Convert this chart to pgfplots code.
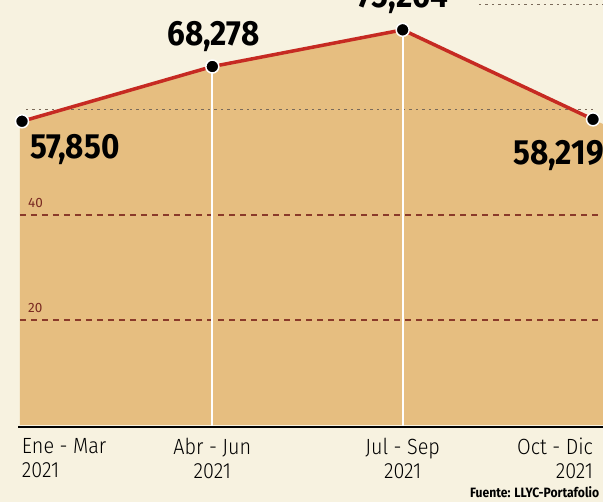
\documentclass[border=0pt]{standalone}
\usepackage{pgfplots}
\pgfplotsset{compat=1.18}
\usepackage{fontspec}
\setmainfont{Fira Sans}
\newfontfamily\lightfont{Fira Sans}[UprightFont={* Light}, FakeStretch=0.9]
\newfontfamily\boldfont{Fira Sans}[UprightFont={* Bold}, FakeStretch=0.9]
\newfontfamily\smallbold{Fira Sans}[UprightFont={* SemiBold}, FakeStretch=0.85]
\definecolor{cream}{HTML}{F7F2E0}
\definecolor{tan}{HTML}{E6BE80}
\definecolor{redline}{HTML}{C62A22}
\definecolor{gridred}{HTML}{8A3A2A}
\definecolor{griddot}{HTML}{7A6A5A}
\definecolor{baseline}{HTML}{3A2A20}
\definecolor{ticklab}{HTML}{7A2A22}
\begin{document}
\begin{tikzpicture}
\fill[cream] (-20pt,-77pt) rectangle (583pt,425pt);
\begin{axis}[
  name=ax, at={(0,0)}, anchor=south west,
  scale only axis, width=583pt, height=425pt,
  xmin=-0.0105, xmax=3.0525, ymin=0, ymax=80.95,
  axis line style={draw=none}, tick style={draw=none},
  axis on top=true,
  clip=false,
  xtick={0,1,2,3},
  xticklabels={{\rlap{Ene - Mar}\\\rlap{2021}},{Abr - Jun\\2021},{Jul - Sep\\2021},{\llap{Oct - Dic}\\\llap{2021}}},
  xticklabel style={align=center, anchor=north, inner sep=0pt, yshift=-13pt, font=\lightfont\fontsize{22}{24}\selectfont, text=black},
  ytick={20,40},
  yticklabel style={anchor=base west, inner sep=0pt, xshift=8pt, yshift=7pt, font=\fontsize{13.5}{15}\selectfont, text=ticklab},
  /pgf/number format/assume math mode=true,
]
% area
\addplot[fill=tan, draw=none] coordinates {(-0.0105,-0.4) (-0.0105,57.85) (0,57.85) (1,68.278) (2,75.264) (3,58.219) (3.0525,57.32) (3.0525,-0.4)} \closedcycle;
% grid lines
\addplot[gridred, line width=1.1pt, dash pattern=on 6pt off 5pt] coordinates {(-0.0105,20) (3.0525,20)};
\addplot[gridred, line width=1.1pt, dash pattern=on 6pt off 5pt] coordinates {(-0.0105,40) (3.0525,40)};
\addplot[griddot, line width=1pt, dash pattern=on 2.5pt off 4pt] coordinates {(0.02,60) (3.0,60)};
\addplot[griddot, line width=1pt, dash pattern=on 2.5pt off 4pt] coordinates {(2.4,80) (3.0525,80)};
% vertical white lines
\addplot[white, line width=2pt] coordinates {(1,-0.4) (1,68.278)};
\addplot[white, line width=2pt] coordinates {(2,-0.4) (2,75.264)};
% baseline
\addplot[baseline, line width=2.5pt] coordinates {(-0.02,-0.4) (3.0525,-0.4)};
% line with markers
\addplot[redline, line width=3.5pt, mark=*, mark size=6.5pt, mark options={fill=black, draw=white, line width=1.5pt, solid}] coordinates {(0,57.85) (1,68.278) (2,75.264) (3,58.219)};
% data labels
\node[anchor=base west, inner sep=0pt, font=\boldfont\fontsize{35}{36}\selectfont] at ([shift={(8pt,-37pt)}]axis cs:0,57.85) {57,850};
\node[anchor=base, inner sep=0pt, font=\boldfont\fontsize{35}{36}\selectfont] at ([shift={(1pt,21pt)}]axis cs:1,68.278) {68,278};
\node[anchor=base, inner sep=0pt, font=\boldfont\fontsize{35}{36}\selectfont] at ([shift={(0pt,22pt)}]axis cs:2,75.264) {75,264};
\node[anchor=base east, inner sep=0pt, font=\boldfont\fontsize{35}{36}\selectfont] at ([shift={(11pt,-45pt)}]axis cs:3,58.219) {58,219};
\end{axis}
\node[anchor=base west, inner sep=0pt, font=\boldfont\fontsize{13.5}{15}\selectfont] at (450pt,-73pt) {Fuente: LLYC-Portafolio};
\pgfresetboundingbox
\path[use as bounding box] (-20pt,-77pt) rectangle (583pt,425pt);
\end{tikzpicture}
\end{document}
